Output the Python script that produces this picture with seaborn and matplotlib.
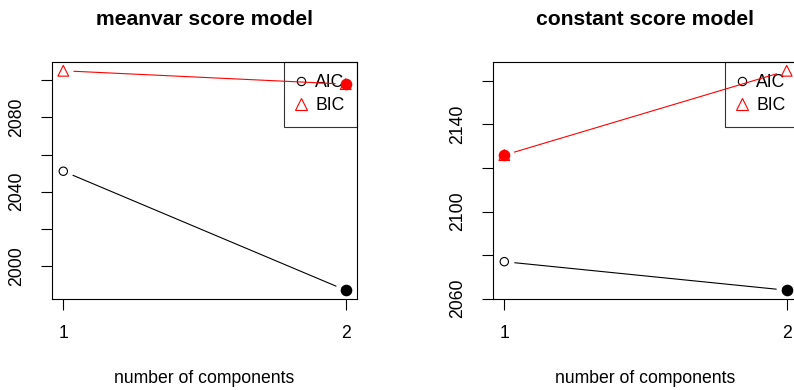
import numpy as np
import pandas as pd
import matplotlib
matplotlib.use("Agg")
import matplotlib.pyplot as plt
import seaborn as sns
from matplotlib.lines import Line2D

sns.set_style("white")
plt.rcParams['font.family'] = ['Liberation Sans', 'DejaVu Sans']
plt.rcParams['text.color'] = 'black'
plt.rcParams['axes.labelcolor'] = 'black'
plt.rcParams['xtick.color'] = 'black'
plt.rcParams['ytick.color'] = 'black'

components = [1, 2]
titles = ["meanvar score model", "constant score model"]
aic_meanvar = [2051.0, 1986.8]
bic_meanvar = [2105.2, 2098.0]
aic_constant = [2077.0, 2063.9]
bic_constant = [2125.9, 2164.6]
ytick_step = 20
ylabel_step = 40
xlabel_text = "number of components"
legend_labels = ["AIC", "BIC"]

FS = 12.7
fig = plt.figure(figsize=(7.94, 3.9), dpi=100)
positions = [[52/794, 91/390, 305/794, 237/390], [493/794, 91/390, 305/794, 237/390]]
panels = [(aic_meanvar, bic_meanvar), (aic_constant, bic_constant)]


def gapped(ax, xs, ys, color, gap=10.5):
    pts = ax.transData.transform(np.column_stack([xs, ys]))
    for i in range(len(pts) - 1):
        p0, p1 = pts[i], pts[i + 1]
        d = p1 - p0
        L = np.hypot(*d)
        u = d / L
        a = ax.transData.inverted().transform(p0 + u * gap)
        b = ax.transData.inverted().transform(p1 - u * gap)
        ax.plot([a[0], b[0]], [a[1], b[1]], color=color, lw=0.8, zorder=2)


for k, (pos, (aic, bic), title) in enumerate(zip(positions, panels, titles)):
    ax = fig.add_axes(pos)
    allv = np.array(aic + bic)
    lo, hi = allv.min(), allv.max()
    ext = 0.04 * (hi - lo)
    ax.set_ylim(lo - ext, hi + ext)
    ax.set_xlim(0.96, 2.04)

    gapped(ax, components, aic, "black")
    gapped(ax, components, bic, "red")

    df_a = pd.DataFrame({"x": components, "y": aic})
    df_b = pd.DataFrame({"x": components, "y": bic})
    sns.scatterplot(data=df_a, x="x", y="y", marker="o", s=36, facecolors="none",
                    edgecolor="black", linewidth=0.8, ax=ax, zorder=3, legend=False)
    sns.scatterplot(data=df_b, x="x", y="y", marker="^", s=60, facecolors="none",
                    edgecolor="red", linewidth=0.8, ax=ax, zorder=3, legend=False)
    ia = int(np.argmin(aic))
    ib = int(np.argmin(bic))
    sns.scatterplot(x=[components[ia]], y=[aic[ia]], marker="o", s=70, color="black",
                    linewidth=0, ax=ax, zorder=4, legend=False)
    sns.scatterplot(x=[components[ib]], y=[bic[ib]], marker="o", s=70, color="red",
                    linewidth=0, ax=ax, zorder=4, legend=False)

    # ticks
    t0 = np.ceil((lo - ext) / ytick_step) * ytick_step
    yt = np.arange(t0, hi + ext, ytick_step)
    ref = int(yt[0]) if k == 1 else 2000
    ax.set_yticks(yt)
    ax.set_yticklabels([f"{int(v)}" if (int(v) - ref) % ylabel_step == 0 else "" for v in yt],
                       rotation=90, va="center")
    ax.set_xticks(components)
    ax.set_xticklabels([str(c) for c in components])
    ax.tick_params(axis="both", direction="out", length=8, width=0.8, pad=11,
                   labelsize=FS, color="black", labelcolor="black", bottom=True, left=True)
    for s in ax.spines.values():
        s.set_color("black")
        s.set_linewidth(0.8)
    ax.set_xlabel(xlabel_text, fontsize=FS, labelpad=20, color="black")
    ax.set_ylabel("")
    ax.set_title(title, fontsize=FS * 1.2, fontweight="bold", pad=27, color="black")

    handles = [Line2D([], [], marker="o", ls="", mfc="none", mec="black", ms=6, mew=0.8),
               Line2D([], [], marker="^", ls="", mfc="none", mec="red", ms=8, mew=0.8)]
    leg = ax.legend(handles, legend_labels, loc="upper right", bbox_to_anchor=(1, 1),
                    borderaxespad=0, fontsize=FS, frameon=True, fancybox=False,
                    handlelength=0.6, handletextpad=0.5, borderpad=0.7,
                    labelspacing=0.33, numpoints=1, labelcolor="black")
    fr = leg.get_frame()
    fr.set_facecolor("none")
    fr.set_edgecolor("black")
    fr.set_linewidth(0.8)
    leg.set_zorder(1)

fig.savefig("out.png", dpi=100)
